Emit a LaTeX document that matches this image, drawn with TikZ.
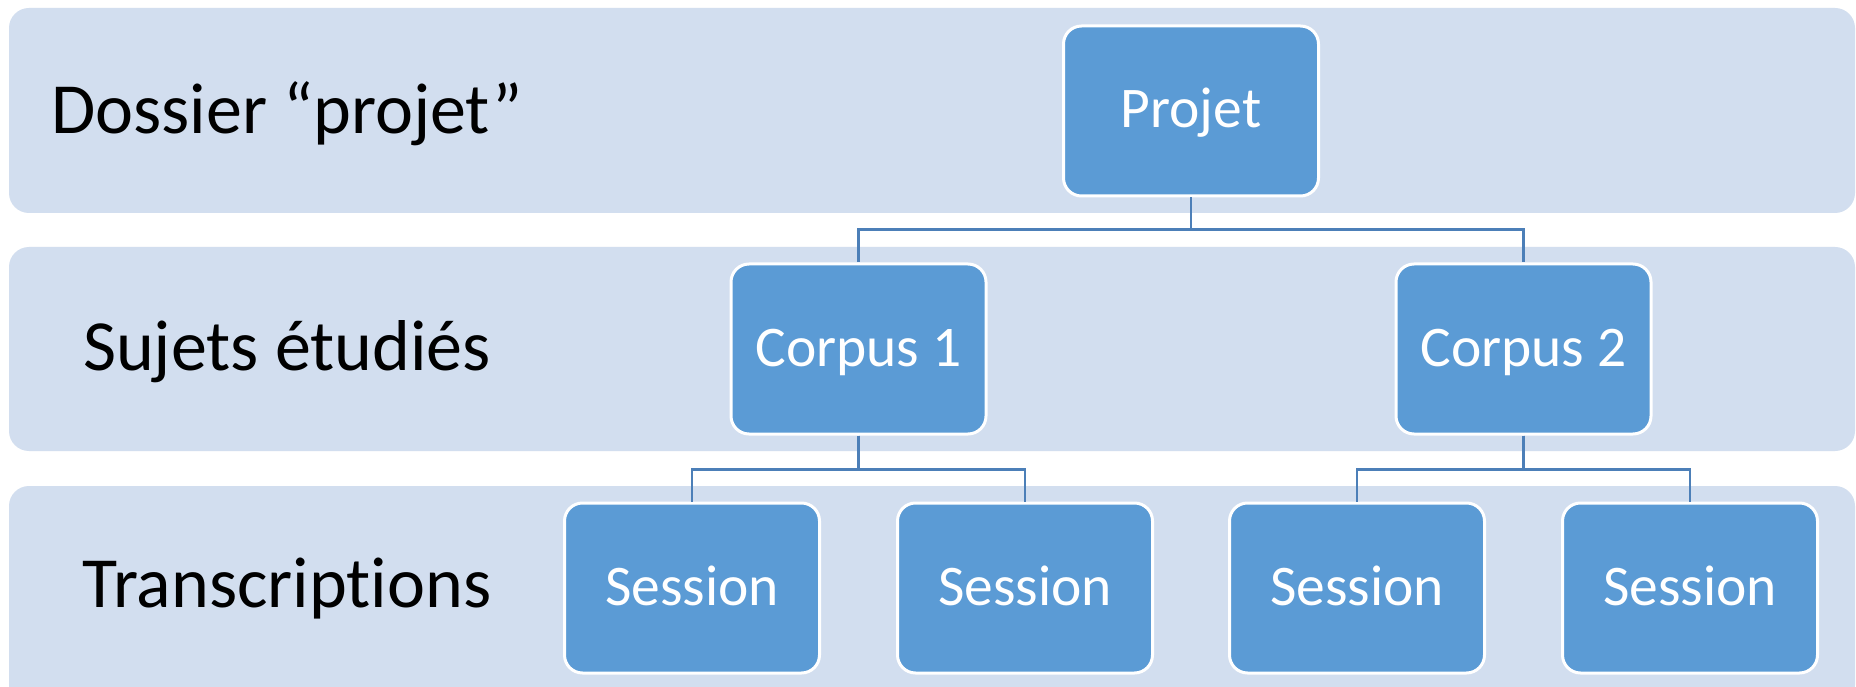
\documentclass[tikz,border=0pt]{standalone}
\usepackage{fontspec}
\setmainfont{Carlito}[Ligatures={NoCommon,NoContextual}]
\definecolor{bandfill}{HTML}{D2DEEF}
\definecolor{boxfill}{HTML}{5B9BD5}
\definecolor{connblue}{HTML}{4C7FB8}
\begin{document}
\begin{tikzpicture}[x=1pt,y=-1pt,
  band/.style={fill=bandfill, draw=none, rounded corners=20pt},
  box/.style={rectangle, fill=boxfill, draw=white, line width=3pt, rounded corners=18pt,
    minimum width=255pt, minimum height=170pt, inner sep=0pt,
    text=white, font=\fontsize{57.5}{60}\selectfont, text height=34pt, text depth=0pt},
  lvl/.style={anchor=base, text=black, font=\fontsize{72}{80}\selectfont, inner sep=0pt},
  conn/.style={draw=connblue, line width=2.5pt}]
\useasboundingbox (0,0) rectangle (1856,687);
\clip (0,0) rectangle (1856,687);
\fill[white] (0,0) rectangle (1856,687);
% bands
\path[band] (9,8) rectangle (1855,213);
\path[band] (9,247) rectangle (1855,451);
\path[band] (9,486) rectangle (1855,705);
% level labels
\node[lvl] (l1) at (287,134) {Dossier “projet”};
\node[lvl] (l2) at (287,370) {Sujets étudiés};
\node[lvl] (l3) at (287,607) {Transcriptions};
% boxes
\node[box] (projet) at (1191,111) {Projet};
\node[box] (corpus1) at (858.5,349) {Corpus 1};
\node[box] (corpus2) at (1523.5,349) {Corpus 2};
\node[box] (s1) at (692,588) {Session};
\node[box] (s2) at (1025,588) {Session};
\node[box] (s3) at (1357,588) {Session};
\node[box] (s4) at (1690,588) {Session};
% connectors
\draw[conn] (projet.south) -- ++(0,32) -| (corpus1.north);
\draw[conn] (projet.south) -- ++(0,32) -| (corpus2.north);
\draw[conn] (corpus1.south) -- ++(0,34) -| (s1.north);
\draw[conn] (corpus1.south) -- ++(0,34) -| (s2.north);
\draw[conn] (corpus2.south) -- ++(0,34) -| (s3.north);
\draw[conn] (corpus2.south) -- ++(0,34) -| (s4.north);
\end{tikzpicture}
\end{document}
